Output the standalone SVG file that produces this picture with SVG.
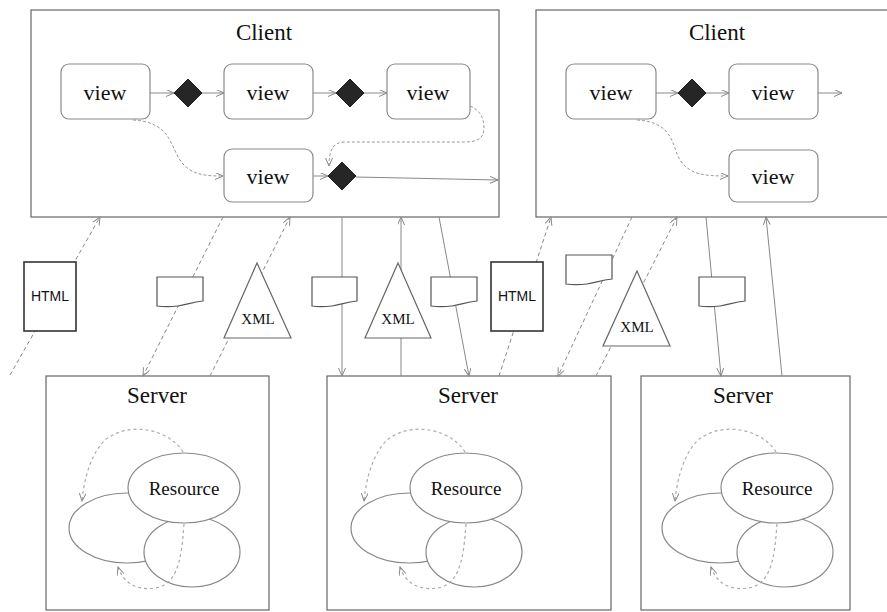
<svg xmlns="http://www.w3.org/2000/svg" width="887" height="612" viewBox="0 0 887 612">
<style>
.box{fill:#fff;stroke:#666;stroke-width:1.2}
.view{fill:#fff;stroke:#8a8a8a;stroke-width:1.2}
.dia{fill:#262626;stroke:#222}
.ttl{font-family:"Liberation Serif",serif;font-size:23px;fill:#111;text-anchor:middle}
.vt{font-family:"Liberation Serif",serif;font-size:22px;fill:#111;text-anchor:middle}
.res{font-family:"Liberation Serif",serif;font-size:19px;fill:#111;text-anchor:middle}
.xml{font-family:"Liberation Serif",serif;font-size:15px;fill:#111;text-anchor:middle}
.html{font-family:"Liberation Sans",sans-serif;font-size:14px;fill:#111;text-anchor:middle}
.doc{fill:#fff;stroke:#555;stroke-width:1.2}
.hbox{fill:#fff;stroke:#333;stroke-width:1.6}
.tri{fill:#fff;stroke:#666;stroke-width:1.2}
.ell{fill:#fff;stroke:#888;stroke-width:1.2}
.c{fill:none;stroke:#888;stroke-width:1;marker-end:url(#ah)}
.d{stroke-dasharray:4 3}
.cv{fill:none;stroke:#999;stroke-width:1;stroke-dasharray:3 2;marker-end:url(#ah)}
.sd{fill:none;stroke:#aaa;stroke-width:1.2;stroke-dasharray:3 3;marker-end:url(#ah)}
</style>
<defs>
<marker id="ah" markerWidth="10" markerHeight="10" refX="8" refY="3.5" orient="auto" markerUnits="userSpaceOnUse">
<path d="M0,0 L8,3.5 L0,7" fill="none" stroke="#888" stroke-width="1"/>
</marker>
<g id="srvInner">
<ellipse class="ell" cx="-57" cy="40" rx="58" ry="35"/>
<ellipse class="ell" cx="8" cy="64" rx="48" ry="35"/>
<ellipse class="ell" cx="0" cy="0" rx="56" ry="35"/>
<text class="res" x="0" y="7">Resource</text>
<path class="sd" d="M-1,-36 C-14,-58 -54,-68 -79,-48 C-94,-33 -100,-8 -102,13"/>
<path class="sd" d="M0,36 C-2,62 -4,92 -24,99 C-44,104 -60,97 -66,79"/>
</g>
</defs>

<g id="client1">
<rect class="box" x="31" y="10" width="468" height="207"/>
<text class="ttl" x="264" y="40">Client</text>
</g>
<g id="client2">
<rect class="box" x="536" y="10" width="352" height="207"/>
<text class="ttl" x="717" y="40">Client</text>
</g>

<g id="server1">
<rect class="box" x="46" y="376" width="223" height="234"/>
<text class="ttl" x="157" y="403">Server</text>
<use href="#srvInner" transform="translate(184,488)"/>
</g>
<g id="server2">
<rect class="box" x="327" y="376" width="284" height="234"/>
<text class="ttl" x="468" y="403">Server</text>
<use href="#srvInner" transform="translate(466,488)"/>
</g>
<g id="server3">
<rect class="box" x="641" y="376" width="209" height="234"/>
<text class="ttl" x="743" y="403">Server</text>
<use href="#srvInner" transform="translate(777,488)"/>
</g>

<g id="connectors">
<line class="c" x1="150" y1="93" x2="174" y2="93"/>
<line class="c" x1="202" y1="93" x2="224" y2="93"/>
<line class="c" x1="313" y1="93" x2="336" y2="93"/>
<line class="c" x1="364" y1="93" x2="387" y2="93"/>
<line class="c" x1="313" y1="176" x2="328" y2="176"/>
<line class="c" x1="356" y1="177" x2="498" y2="180"/>
<path class="cv" d="M133,120 C170,122 170,145 180,160 C190,175 205,176 223,176"/>
<path class="cv" d="M470,106 C480,110 484,118 484,128 C484,138 478,142 465,142 L345,142 C333,142 329,150 329,166"/>
<line class="c" x1="656" y1="93" x2="678" y2="93"/>
<line class="c" x1="706" y1="93" x2="729" y2="93"/>
<line class="c" x1="818" y1="93" x2="842" y2="93"/>
<path class="cv" d="M637,120 C675,122 672,148 680,160 C690,175 705,176 728,176"/>
<line class="c d" x1="10" y1="375" x2="100" y2="217"/>
<line class="c d" x1="223" y1="217" x2="143" y2="376"/>
<line class="c d" x1="210" y1="376" x2="290" y2="217"/>
<line class="c" x1="342" y1="217" x2="342" y2="376"/>
<line class="c" x1="401" y1="376" x2="401" y2="217"/>
<line class="c" x1="439" y1="217" x2="469" y2="376"/>
<line class="c d" x1="499" y1="376" x2="551" y2="217"/>
<line class="c d" x1="632" y1="217" x2="558" y2="376"/>
<line class="c d" x1="596" y1="376" x2="677" y2="217"/>
<line class="c" x1="706" y1="217" x2="721" y2="376"/>
<line class="c" x1="782" y1="376" x2="766" y2="217"/>
</g>

<g id="view1"><rect class="view" x="61" y="64" width="89" height="55" rx="8"/><text class="vt" x="105" y="100">view</text></g>
<g id="dia1"><path class="dia" d="M188,79 L202,93 L188,107 L174,93 Z"/></g>
<g id="view2"><rect class="view" x="224" y="64" width="89" height="55" rx="8"/><text class="vt" x="268" y="100">view</text></g>
<g id="dia2"><path class="dia" d="M350,79 L364,93 L350,107 L336,93 Z"/></g>
<g id="view3"><rect class="view" x="387" y="64" width="83" height="55" rx="8"/><text class="vt" x="428" y="100">view</text></g>
<g id="view4"><rect class="view" x="224" y="149" width="89" height="53" rx="8"/><text class="vt" x="268" y="184">view</text></g>
<g id="dia3"><path class="dia" d="M342,162 L356,176 L342,190 L328,176 Z"/></g>

<g id="view5"><rect class="view" x="566" y="64" width="90" height="55" rx="8"/><text class="vt" x="611" y="100">view</text></g>
<g id="dia4"><path class="dia" d="M692,79 L706,93 L692,107 L678,93 Z"/></g>
<g id="view6"><rect class="view" x="729" y="64" width="89" height="55" rx="8"/><text class="vt" x="773" y="100">view</text></g>
<g id="view7"><rect class="view" x="729" y="150" width="89" height="52" rx="8"/><text class="vt" x="773" y="184">view</text></g>

<g id="html1"><rect class="hbox" x="24" y="262" width="52" height="69"/><text class="html" x="50" y="301">HTML</text></g>
<g id="doc1"><path class="doc" d="M157,277 H203 V301 C192,302 186,305 178,306 C170,307 164,307 157,306 Z"/></g>
<g id="xml1"><path class="tri" d="M257,263 L291,338 L224,338 Z"/><text class="xml" x="258" y="324">XML</text></g>
<g id="doc2"><path class="doc" d="M312,277 H357 V301 C346,302 340,305 332,306 C324,307 318,307 312,306 Z"/></g>
<g id="xml2"><path class="tri" d="M398,263 L431,338 L365,338 Z"/><text class="xml" x="398" y="324">XML</text></g>
<g id="doc3"><path class="doc" d="M431,277 H477 V301 C466,302 460,305 452,306 C444,307 438,307 431,306 Z"/></g>
<g id="html2"><rect class="hbox" x="491" y="262" width="52" height="69"/><text class="html" x="517" y="301">HTML</text></g>
<g id="doc4"><path class="doc" d="M566,255 H612 V279 C601,280 595,283 587,284 C579,285 573,285 566,284 Z"/></g>
<g id="xml3"><path class="tri" d="M637,271 L670,346 L603,346 Z"/><text class="xml" x="637" y="332">XML</text></g>
<g id="doc5"><path class="doc" d="M699,277 H745 V301 C734,302 728,305 720,306 C712,307 706,307 699,306 Z"/></g>
</svg>
